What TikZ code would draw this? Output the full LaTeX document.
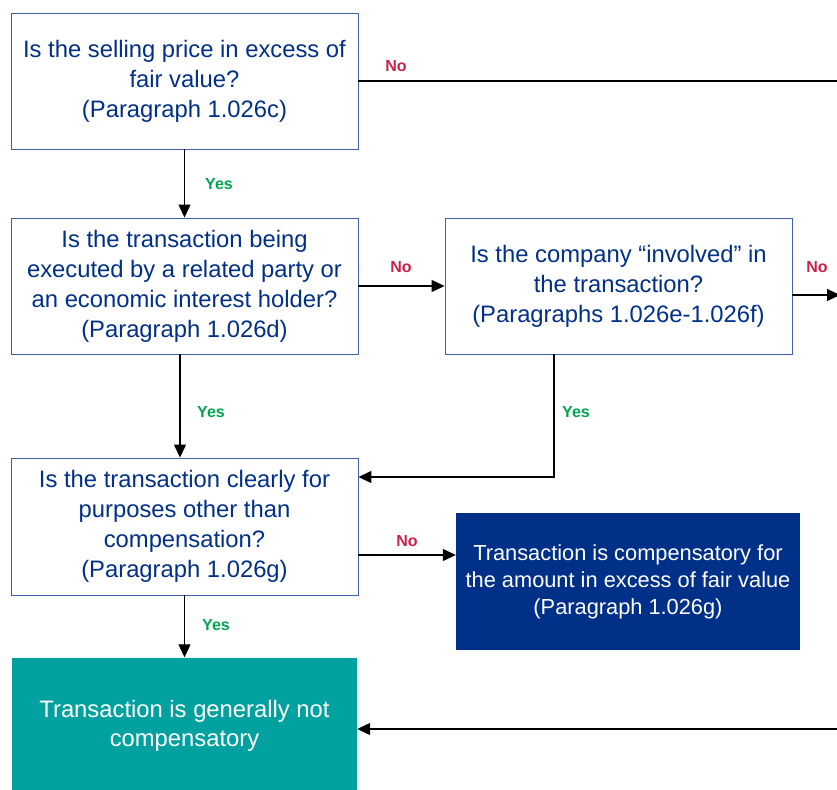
\documentclass[tikz,border=0pt]{standalone}
\usepackage{fontspec}
\setmainfont{Liberation Sans}
\usepackage{xcolor}
\usetikzlibrary{arrows.meta}
\usetikzlibrary{calc}
\usetikzlibrary{positioning}
\definecolor{qblue}{RGB}{0,48,135}
\definecolor{qedge}{RGB}{60,96,180}
\definecolor{tealbox}{RGB}{0,161,158}
\definecolor{nored}{RGB}{200,35,75}
\definecolor{yesgreen}{RGB}{0,166,80}

\begin{document}
\begin{tikzpicture}[x=1pt,y=-1pt,
	q_node/.style={rectangle,draw=qedge,line width=0.9pt,fill=white,text=qblue,minimum width=347pt,minimum height=136pt,inner sep=0pt,align=center,font=\fontsize{23.8}{30}\selectfont},
	res_node/.style={rectangle,fill=qblue,text=white,minimum width=344pt,minimum height=137pt,inner sep=0pt,align=center,font=\fontsize{21.8}{27}\selectfont},
	end_node/.style={rectangle,fill=tealbox,text=white,minimum width=345pt,minimum height=137pt,inner sep=0pt,align=center,font=\fontsize{23.8}{29}\selectfont},
	no_lbl/.style={text=nored,inner sep=0pt,font=\fontsize{16}{16}\bfseries\selectfont},
	yes_lbl/.style={text=yesgreen,inner sep=0pt,font=\fontsize{16}{16}\bfseries\selectfont},
	arr/.style={line width=1.2pt,-{Triangle[length=13pt,width=12pt]}}]
				\path[use as bounding box,clip] (0,0) rectangle (837,789);
				\node[q_node](1) at (184.5,81){Is the selling price in excess of\\fair value?\\(Paragraph 1.026c)};
				\node[q_node](2) at (184.5,286){Is the transaction being\\executed by a related party or\\an economic interest holder?\\(Paragraph 1.026d)};
				\node[q_node](3) at (618.5,286){Is the company “involved” in\\the transaction?\\(Paragraphs 1.026e-1.026f)};
				\node[q_node,minimum height=137pt](4) at (184.5,526.5){Is the transaction clearly for\\purposes other than\\compensation?\\(Paragraph 1.026g)};
				\node[res_node](5) at (628,581.5){Transaction is compensatory for\\the amount in excess of fair value\\(Paragraph 1.026g)};
				\node[end_node](6) at (184.5,726){Transaction is generally not\\compensatory};
				% loose ends past the right edge
				\coordinate (o1) at (850,81);
				\coordinate (o2) at (840,295);
				\coordinate (o3) at (850,729);
				\draw[line width=1.2pt] (1.east |- o1) -- (o1);
				\draw[arr] (1.south) -- (2.north);
				\draw[arr] (2.east) -- (3.west);
				\draw[arr] (3.east |- o2) -- (o2);
				\draw[arr] ($(2.south)+(-4.5,0)$) -- ($(4.north)+(-4.5,0)$);
				\draw[arr] ($(3.south)+(-64.5,0)$) |- (4.east |- 0,477);
				\draw[arr] (4.east |- 0,555) -- (5.west |- 0,555);
				\draw[arr] (4.south) -- (6.north);
				\draw[arr] (o3) -- (6.east |- o3);
				% answers
				\node[no_lbl] at (396,66){No};
				\node[yes_lbl] at (219,184){Yes};
				\node[no_lbl] at (401,267){No};
				\node[no_lbl] at (817,267){No};
				\node[yes_lbl] at (211,412){Yes};
				\node[yes_lbl] at (576,412){Yes};
				\node[no_lbl] at (407,541){No};
				\node[yes_lbl] at (216,625){Yes};
			\end{tikzpicture}
\end{document}
